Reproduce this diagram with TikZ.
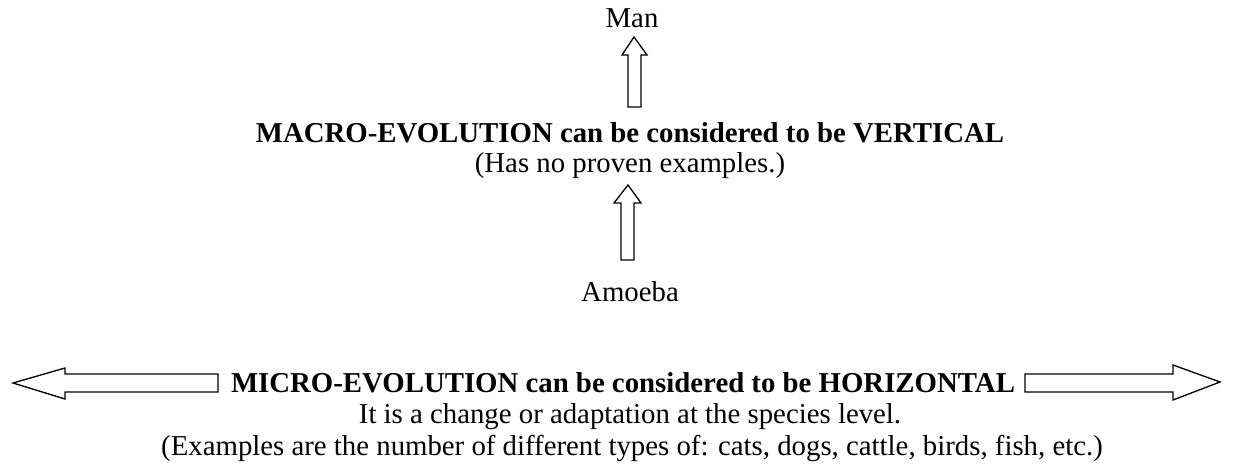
\documentclass[tikz,border=0pt]{standalone}
\usepackage{fontspec}
\setmainfont{Liberation Serif}
\begin{document}
\begin{tikzpicture}[x=1pt,y=-1pt,
  txt/.style={inner sep=0pt,anchor=base,font=\fontsize{28.8}{31}\selectfont},
  btxt/.style={txt,font=\fontsize{28.8}{31}\selectfont\bfseries},
  blockarrow/.style={draw=black,line width=1.3pt,fill=white,line join=miter}]
\useasboundingbox (0,0) rectangle (1245,465);
\node[txt] (man) at (632,28) {Man};
\node[btxt] (macro) at (630,143) {MACRO-EVOLUTION can be considered to be VERTICAL};
\node[txt] (has) at (630,173) {(Has no proven examples.)};
\node[txt] (amoeba) at (630,301) {Amoeba};
\node[btxt] (micro) at (623,392) {MICRO-EVOLUTION can be considered to be HORIZONTAL};
\node[txt] (change) at (630,423) {It is a change or adaptation at the species level.};
\node[txt] (examples) at (632,455) {(Examples are the number of different types of: cats, dogs, cattle, birds, fish, etc.)};
% vertical arrow to Man
\draw[blockarrow] (628,107) -- (628,55) -- (622,55) -- (634,37) -- (647,55) -- (641,55) -- (641,107) -- cycle;
% vertical arrow from Amoeba
\draw[blockarrow] (621,260) -- (621,203) -- (614,203) -- (628,185) -- (641,203) -- (634,203) -- (634,260) -- cycle;
% left arrow
\draw[blockarrow] (218,374) -- (65,374) -- (65,368) -- (13,383) -- (65,399) -- (65,392) -- (218,392) -- cycle;
% right arrow
\draw[blockarrow] (1025,374) -- (1173,374) -- (1173,365) -- (1220,382) -- (1173,400) -- (1173,392) -- (1025,392) -- cycle;
\end{tikzpicture}
\end{document}
